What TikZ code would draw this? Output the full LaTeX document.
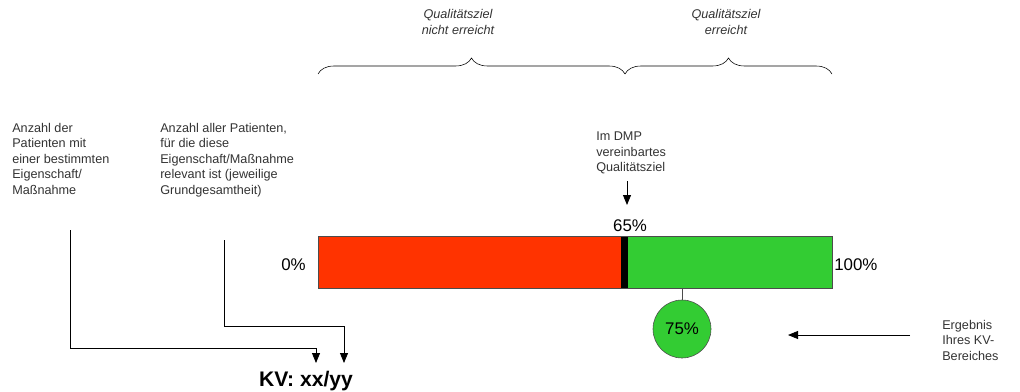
\documentclass[tikz,border=0pt]{standalone}
\usepackage{fontspec}
\setmainfont{Liberation Sans}
\usepackage{tikz}
\usetikzlibrary{decorations.pathreplacing}
\usetikzlibrary{arrows.meta}
\usetikzlibrary{calc}

\definecolor{barred}{RGB}{255,51,0}
\definecolor{bargreen}{RGB}{51,204,51}

\tikzset{
  note/.style={align=left, font=\fontsize{9}{11}\selectfont, text=black!80, inner sep=0pt},
  ziel/.style={align=center, font=\fontsize{9}{11}\selectfont\itshape, text=black!80, inner sep=0pt},
  pct/.style={font=\fontsize{12}{14}\selectfont, inner sep=0pt},
  pfeil/.style={-{Triangle[length=0.25cm, width=0.2cm]}, semithick}
}

\begin{document}
\begin{tikzpicture}[x=0.025cm, y=0.025cm]

            \useasboundingbox (0,0) rectangle (1020,391);

            \fill[barred] (318,103) rectangle (621,155);
            \fill[bargreen] (628,103) rectangle (832,155);
            \fill[black] (621,103) rectangle (628,155);
            \draw[black!70] (318,103) rectangle (832,155);

            \node[pct, anchor=east] (null) at (306,126) {0\%};
            \node[pct, anchor=west] (voll) at (834,126) {100\%};
            \node[pct] (ziel) at (630,165) {65\%};

            \node[note, anchor=north west] (dmp) at (596,259) {Im DMP\\vereinbartes\\Qualitätsziel};
            \draw[pfeil] (627,210) -- (627,186);

            \node[circle, draw=black!70, fill=bargreen, minimum size=1.45cm, pct] (kv) at (682,62) {75\%};
            \draw[black!70] (682,103) -- (kv.north);

            \node[note, anchor=north west] (erg) at (942,71) {Ergebnis\\Ihres KV-\\Bereiches};
            \draw[pfeil] (910,56) -- (788,56);

            \node[note, anchor=north west] (zaehler) at (12,268) {Anzahl der\\Patienten mit\\einer bestimmten\\Eigenschaft/\\Maßnahme};
            \node[note, anchor=north west] (nenner) at (160,268) {Anzahl aller Patienten,\\für die diese\\Eigenschaft/Maßnahme\\relevant ist (jeweilige\\Grundgesamtheit)};

            \node[font=\fontsize{15}{17}\selectfont\bfseries] (bruch) at (306,10) {KV: xx/yy};
            \draw[pfeil] (70,161) -- (70,43) -- (316,43) -- (316,28);
            \draw[pfeil] (224,151) -- (224,65) -- (344,65) -- (344,28);

            \draw[decorate, decoration={brace, amplitude=0.4cm}] (318,317) -- (625,317);
            \draw[decorate, decoration={brace, amplitude=0.4cm}] (625,317) -- (832,317);
            \node[ziel] (nicht) at (458,369) {Qualitätsziel\\nicht erreicht};
            \node[ziel] (ja) at (726,369) {Qualitätsziel\\erreicht};

          \end{tikzpicture}
\end{document}
